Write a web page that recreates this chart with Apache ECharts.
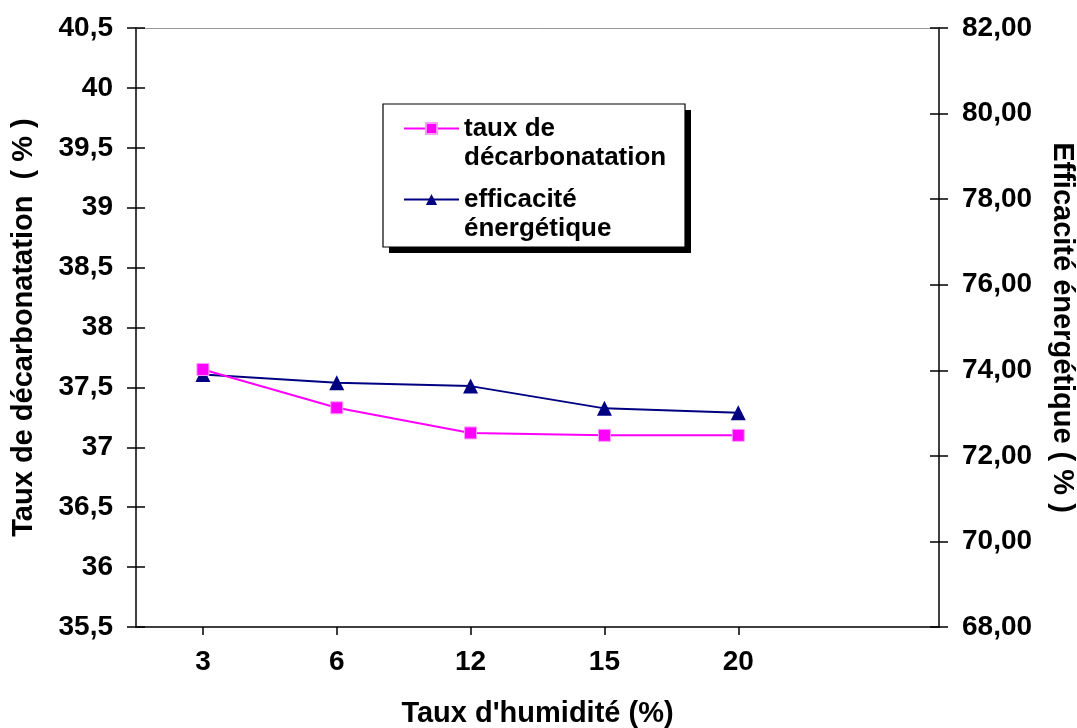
<!DOCTYPE html>
<html>
<head>
<meta charset="utf-8">
<script src="https://cdn.jsdelivr.net/npm/echarts@6/dist/echarts.min.js"></script>
<style>
  html, body { margin: 0; padding: 0; background: #fff; }
  #chart { width: 1077px; height: 728px; }
</style>
</head>
<body>
<div id="chart"></div>
<script>
// Moisture levels (%) — a trailing empty slot keeps the right margin of the plot
const humidite = ['3', '6', '12', '15', '20', ''];
// Decarbonation rate (%) — left axis
const tauxDecarbonatation = [37.65, 37.33, 37.12, 37.10, 37.10];
// Energy efficiency (%) — right axis
const efficaciteEnergetique = [73.90, 73.71, 73.63, 73.11, 73.01];

const leftAxisRange = { min: 35.5, max: 40.5, interval: 0.5 };
const rightAxisRange = { min: 68, max: 82, interval: 2 };

const FONT = '"Liberation Sans", Arial, sans-serif';
const labelStyle = { fontFamily: FONT, fontWeight: 'bold', fontSize: 28, color: '#000' };
const titleStyle = { fontFamily: FONT, fontWeight: 'bold', fontSize: 29, color: '#000' };

const commaDecimal = (v, digits) =>
  (digits == null ? String(+v.toFixed(2)) : v.toFixed(digits)).replace('.', ',');

const chart = echarts.init(document.getElementById('chart'), null, { renderer: 'canvas' });

const TICK_HALF = 9;
const tickStyle = { color: '#000', width: 1.5 };

const yBase = (pos, range) => ({
  type: 'value',
  position: pos,
  min: range.min,
  max: range.max,
  interval: range.interval,
  splitLine: { show: false },
  axisLine: { show: true, lineStyle: { color: '#000', width: 1.5 } }
});

// Tick-only copy of an axis, shifted inward so its outward ticks straddle the axis line
const crossTicks = (pos, range) => Object.assign(yBase(pos, range), {
  offset: -TICK_HALF,
  axisLine: { show: false },
  axisTick: { show: true, length: 2 * TICK_HALF, lineStyle: tickStyle },
  axisLabel: { show: false }
});

chart.setOption({
  backgroundColor: '#fff',
  animation: false,
  grid: { left: 136, right: 138, top: 28, bottom: 101, outerBoundsMode: 'none', containLabel: false },
  graphic: [{
    // legend frame with its offset drop shadow
    type: 'rect',
    z: 0,
    shape: { x: 389, y: 110, width: 302, height: 143 },
    style: { fill: '#000' }
  }, {
    type: 'rect',
    z: 0,
    shape: { x: 383, y: 104, width: 302, height: 143 },
    style: { fill: '#fff', stroke: '#000', lineWidth: 1.2 }
  }],
  legend: {
    left: 403,
    top: 85,
    padding: 0,
    orient: 'vertical',
    itemWidth: 55,
    itemHeight: 14,
    itemGap: -16,
    formatter: name => '\n' + name,
    textStyle: { fontFamily: FONT, fontWeight: 'bold', fontSize: 26, color: '#000', lineHeight: 29 },
    data: ['taux de\ndécarbonatation', 'efficacité\nénergétique']
  },
  xAxis: [{
    type: 'category',
    data: humidite,
    boundaryGap: true,
    name: "Taux d'humidité (%)",
    nameLocation: 'middle',
    nameGap: 72,
    nameTextStyle: titleStyle,
    axisLine: { lineStyle: { color: '#000', width: 1.5 } },
    axisTick: {
      show: true,
      alignWithLabel: true,
      interval: (i) => i < 5,
      length: 8,
      lineStyle: tickStyle
    },
    axisLabel: Object.assign({ margin: 21, interval: 0 }, labelStyle)
  }, {
    type: 'category',
    data: humidite,
    position: 'top',
    axisLine: { lineStyle: { color: '#999', width: 1 } },
    axisTick: { show: false },
    axisLabel: { show: false }
  }],
  yAxis: [
    Object.assign(yBase('left', leftAxisRange), {
      name: 'Taux de décarbonatation  ( % )',
      nameLocation: 'middle',
      nameGap: 98,
      nameTextStyle: titleStyle,
      axisTick: { show: false },
      axisLabel: Object.assign({ margin: 23, formatter: v => commaDecimal(v) }, labelStyle)
    }),
    Object.assign(yBase('right', rightAxisRange), {
      name: 'Efficacité énergétique ( % )',
      nameLocation: 'middle',
      nameGap: 108,
      nameRotate: -90,
      nameTextStyle: titleStyle,
      axisTick: { show: false },
      axisLabel: Object.assign({ margin: 23, formatter: v => commaDecimal(v, 2) }, labelStyle)
    }),
    crossTicks('left', leftAxisRange),
    crossTicks('right', rightAxisRange)
  ],
  series: [{
    name: 'taux de\ndécarbonatation',
    type: 'line',
    yAxisIndex: 0,
    data: tauxDecarbonatation,
    symbol: 'rect',
    symbolSize: 12,
    z: 3,
    lineStyle: { color: '#FF00FF', width: 2 },
    itemStyle: { color: '#FF00FF', borderColor: '#FF9CFF', borderWidth: 1 }
  }, {
    name: 'efficacité\nénergétique',
    type: 'line',
    yAxisIndex: 1,
    data: efficaciteEnergetique,
    symbol: 'triangle',
    symbolSize: 15,
    z: 2,
    lineStyle: { color: '#000080', width: 2 },
    itemStyle: { color: '#000080' }
  }]
});
</script>
</body>
</html>
